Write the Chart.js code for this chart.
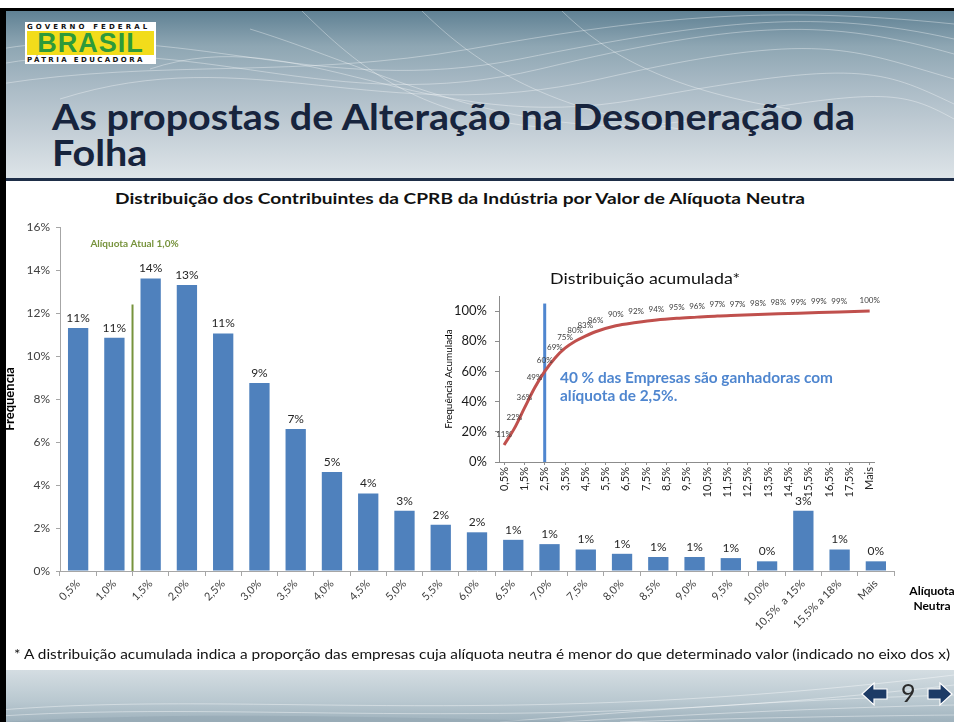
<!DOCTYPE html>
<html lang="pt-BR">
<head>
<meta charset="utf-8">
<title>As propostas de Alteração na Desoneração da Folha</title>
<script src="https://cdn.jsdelivr.net/npm/chart.js@4.4.1/dist/chart.umd.min.js"></script>
<style>
  html, body { margin: 0; padding: 0; }
  body { width: 954px; height: 722px; position: relative; overflow: hidden; background: #fff;
         font-family: Lato, "Open Sans", sans-serif; color: #1a1a1a; }
  .abs { position: absolute; }
  .fit { white-space: nowrap; display: inline-block; transform-origin: left top; }
  #topo { left: 0; top: 9px; width: 954px; height: 169px;
          background: linear-gradient(to bottom, #5d7f92 0%, #8ea6b3 22%, #a9bac5 45%, #c3ced6 72%, #dde4e8 100%); }
  #linha { left: 0; top: 178px; width: 954px; height: 3px; background: #1e2e48; }
  #borda-topo { left: 0; top: 8px; width: 954px; height: 3px; background: #000; }
  #borda-esq { left: 0; top: 8px; width: 6px; height: 714px; background: #000; }
  #rodape { left: 0; top: 670px; width: 954px; height: 52px;
            background: linear-gradient(to bottom, #d4dde2 0%, #b9c8d0 60%, #9fb2bd 100%); }
  #logo { left: 25px; top: 22px; width: 131px; height: 42px; background: #fff; }
  #logo .peq { position: absolute; left: 2px; white-space: nowrap; font: bold 7px "DejaVu Sans", sans-serif;
               color: #111; line-height: 8px; }
  #logo .faixa { position: absolute; left: 2px; top: 9px; width: 127px; height: 24px; background: #f2dc1b;
                 font: bold 27px "Liberation Sans", sans-serif; color: #2e9a3a; line-height: 24px;
                 text-align: center; letter-spacing: 1px; }
  #titulo { left: 52px; top: 98px; font-size: 36px; font-weight: 700; line-height: 36px; color: #17243d; }
  #titulo-grafico { left: 115px; top: 189px; font-size: 15px; font-weight: 700; line-height: 18px; color: #111; }
  #titulo-acum { left: 550px; top: 268px; font-size: 16px; line-height: 20px; color: #111; }
  #nota-azul { left: 560px; top: 368px; font-size: 15px; font-weight: 700; line-height: 18px; color: #4f86cf; }
  #eixo-nome { left: 906px; top: 583px; width: 52px; font-size: 12px; font-weight: 700; line-height: 15px;
               text-align: center; color: #000; }
  #nota { left: 14px; top: 646px; font-size: 13px; line-height: 16px; color: #111; }
  #pagina { left: 901px; top: 678px; font-size: 25px; line-height: 28px; color: #2a2a2a; }
  #grafico { left: 0; top: 180px; }
  #acumulado { left: 430px; top: 270px; }
</style>
</head>
<body>
<div id="topo" class="abs">
  <svg width="954" height="169" style="position:absolute;left:0;top:0">
    <g fill="none" stroke="#ffffff" stroke-opacity="0.35" stroke-width="1">
      <path d="M0,40 C180,10 320,90 520,50 S820,0 954,30"/>
      <path d="M0,55 C200,20 330,110 540,60 S830,10 954,45"/>
      <path d="M60,90 C250,30 380,120 600,70 S850,40 954,70"/>
      <path d="M150,60 C300,10 420,130 640,90 S880,60 954,95"/>
      <path d="M250,20 C380,60 520,140 700,110 S900,80 954,110"/>
      <path d="M0,75 C160,50 300,70 470,40 S760,-5 954,15"/>
      <path d="M300,0 C360,60 420,110 560,120"/>
      <path d="M420,0 C470,50 540,100 680,120"/>
      <path d="M560,0 C600,40 660,80 790,100"/>
    </g>
  </svg>
</div>
<div id="borda-topo" class="abs"></div>
<div id="linha" class="abs"></div>
<div id="rodape" class="abs">
  <svg width="954" height="52" style="position:absolute;left:0;top:0">
    <g fill="none" stroke="#ffffff" stroke-opacity="0.4" stroke-width="1">
      <path d="M0,40 C250,20 500,60 954,5"/>
      <path d="M0,46 C260,30 520,66 954,15"/>
      <path d="M500,52 C650,40 780,30 954,25"/>
      <path d="M560,52 C700,44 820,38 954,35"/>
      <path d="M620,52 C740,48 850,46 954,45"/>
    </g>
    <path d="M0,52 C200,40 400,48 600,52 Z" fill="#8fa3b0" fill-opacity="0.5"/>
  </svg>
</div>
<div id="logo" class="abs">
  <div class="peq" style="top:1px;letter-spacing:3.1px">GOVERNO FEDERAL</div>
  <div class="faixa">BRASIL</div>
  <div class="peq" style="top:34px;letter-spacing:2.4px">PÁTRIA EDUCADORA</div>
</div>

<div id="titulo" class="abs fit">As propostas de Alteração na Desoneração da<br>Folha</div>
<div id="titulo-grafico" class="abs fit">Distribuição dos Contribuintes da CPRB da Indústria por Valor de Alíquota Neutra</div>

<div id="grafico" class="abs"><canvas id="barras" width="954" height="490"></canvas></div>
<div id="acumulado" class="abs"><canvas id="linhaAcum" width="455" height="240"></canvas></div>

<div id="titulo-acum" class="abs fit">Distribuição acumulada*</div>
<div id="nota-azul" class="abs fit">40 % das Empresas são ganhadoras com<br>alíquota de 2,5%.</div>
<div id="eixo-nome" class="abs">Alíquota<br>Neutra</div>
<div id="nota" class="abs fit">* A distribuição acumulada indica a proporção das empresas cuja alíquota neutra é menor do que determinado valor (indicado no eixo dos x)</div>

<div id="pagina" class="abs">9</div>
<svg class="abs" style="left:860px;top:681px" width="94" height="26">
  <polygon points="2,13 14,2 14,8 27,8 27,18 14,18 14,24" fill="#1d3b66" stroke="#ffffff" stroke-width="1.2"/>
  <polygon points="92,13 80,2 80,8 68,8 68,18 80,18 80,24" fill="#1d3b66" stroke="#ffffff" stroke-width="1.2"/>
</svg>
<div id="borda-esq" class="abs"></div>

<script>
// distribuição por alíquota neutra (% dos contribuintes)
const aliquotas = ['0,5%', '1,0%', '1,5%', '2,0%', '2,5%', '3,0%', '3,5%', '4,0%', '4,5%', '5,0%',
  '5,5%', '6,0%', '6,5%', '7,0%', '7,5%', '8,0%', '8,5%', '9,0%', '9,5%', '10,0%',
  '10,5%  a 15%', '15,5% a 18%', 'Mais'];
const frequencia = [11.3, 10.85, 13.6, 13.3, 11.05, 8.75, 6.6, 4.6, 3.6, 2.8,
  2.15, 1.8, 1.45, 1.25, 1.0, 0.8, 0.65, 0.65, 0.6, 0.45,
  2.8, 1.0, 0.45];
const aliquotaAtual = 1.5; // entre 1,0% e 1,5%
const yTicksBarras = [0, 2, 4, 6, 8, 10, 12, 14, 16];

// distribuição acumulada
const faixasAcum = ['0,5%', '1,0%', '1,5%', '2,0%', '2,5%', '3,0%', '3,5%', '4,0%', '4,5%', '5,0%',
  '5,5%', '6,0%', '6,5%', '7,0%', '7,5%', '8,0%', '8,5%', '9,0%', '9,5%', '10,0%',
  '10,5%', '11,0%', '11,5%', '12,0%', '12,5%', '13,0%', '13,5%', '14,0%', '14,5%', '15,0%',
  '15,5%', '16,0%', '16,5%', '17,0%', '17,5%', '18,0%', 'Mais'];
const freqAcum = [11.3, 22.1, 35.7, 49.0, 60.0, 68.8, 75.4, 80.0, 83.4, 86.3,
  null, 90.3, null, 92.4, null, 94.1, null, 95.2, null, 96.0,
  null, 96.8, null, 97.3, null, 97.8, null, 98.2, null, 98.6,
  null, 99.0, null, 99.4, null, null, 100];
const marcoAcum = 4; // 2,5%
const yTicksAcum = [0, 20, 40, 60, 80, 100];

Chart.defaults.font.family = 'Lato, "Open Sans", sans-serif';
Chart.defaults.animation = false;

function ajustarLargura(id, largura) {
  const el = document.getElementById(id);
  const w = el.getBoundingClientRect().width;
  el.style.transform = 'scaleX(' + (largura / w) + ')';
}
ajustarLargura('titulo', 803);
ajustarLargura('titulo-grafico', 690);
ajustarLargura('titulo-acum', 190);
ajustarLargura('nota-azul', 273);
ajustarLargura('nota', 936);

const rotulosBarras = {
  id: 'rotulosBarras',
  afterDatasetsDraw(chart) {
    const ctx = chart.ctx, x = chart.scales.x, y = chart.scales.y;
    ctx.save();
    ctx.font = '12px Lato, sans-serif';
    ctx.fillStyle = '#262626';
    ctx.textAlign = 'center';
    ctx.textBaseline = 'bottom';
    chart.getDatasetMeta(0).data.forEach(function(bar, i) {
      ctx.fillText(Math.round(frequencia[i]) + '%', bar.x, bar.y - 4);
    });
    // linha da alíquota atual
    const gx = x.getPixelForValue(aliquotaAtual);
    ctx.strokeStyle = '#77933c';
    ctx.lineWidth = 2;
    ctx.beginPath();
    ctx.moveTo(gx, y.getPixelForValue(0));
    ctx.lineTo(gx, y.getPixelForValue(12.4));
    ctx.stroke();
    ctx.font = 'bold 10px Lato, sans-serif';
    ctx.fillStyle = '#77933c';
    ctx.textBaseline = 'middle';
    ctx.fillText('Alíquota Atual 1,0%', gx + 2, y.getPixelForValue(15.2));
    ctx.restore();
  }
};

new Chart(document.getElementById('barras'), {
  type: 'bar',
  data: {
    labels: aliquotas,
    datasets: [{
      data: frequencia,
      backgroundColor: '#4f81bd',
      categoryPercentage: 1,
      barPercentage: 0.56
    }]
  },
  options: {
    responsive: false,
    layout: { padding: { top: 47, right: 60, left: 0, bottom: 0 } },
    plugins: { legend: { display: false }, tooltip: { enabled: false } },
    scales: {
      x: {
        afterFit: function(s) { s.height = 99; },
        grid: { drawOnChartArea: false, tickLength: 5, color: '#a6a6a6' },
        border: { color: '#a6a6a6' },
        ticks: { autoSkip: false, minRotation: 45, maxRotation: 45, padding: 1,
                 color: '#404040', font: { size: 11 } }
      },
      y: {
        min: 0, max: 16,
        afterFit: function(s) { s.width = 60; },
        afterBuildTicks: function(s) { s.ticks = yTicksBarras.map(function(v) { return { value: v }; }); },
        grid: { drawOnChartArea: false, tickLength: 4, color: '#a6a6a6' },
        border: { color: '#a6a6a6' },
        ticks: { padding: 6, color: '#404040', font: { size: 12 },
                 callback: function(v) { return v + '%'; } },
        title: { display: true, text: 'Frequência', color: '#000',
                 font: { size: 13, weight: 'bold' }, padding: { top: 2, bottom: 0 } }
      }
    }
  },
  plugins: [rotulosBarras]
});

const rotulosAcum = {
  id: 'rotulosAcum',
  beforeDatasetsDraw(chart) {
    const ctx = chart.ctx, x = chart.scales.x, y = chart.scales.y;
    const bx = x.getPixelForValue(marcoAcum);
    ctx.save();
    ctx.strokeStyle = '#4f86cf';
    ctx.lineWidth = 3;
    ctx.beginPath();
    ctx.moveTo(bx, y.getPixelForValue(0));
    ctx.lineTo(bx, y.getPixelForValue(105));
    ctx.stroke();
    ctx.restore();
  },
  afterDatasetsDraw(chart) {
    const ctx = chart.ctx;
    ctx.save();
    ctx.font = '8px Lato, sans-serif';
    ctx.fillStyle = '#404040';
    ctx.textAlign = 'center';
    ctx.textBaseline = 'middle';
    chart.getDatasetMeta(0).data.forEach(function(pt, i) {
      if (freqAcum[i] === null) return;
      ctx.fillText(Math.round(freqAcum[i]) + '%', pt.x, pt.y - 11);
    });
    ctx.restore();
  }
};

new Chart(document.getElementById('linhaAcum'), {
  type: 'line',
  data: {
    datasets: [{
      data: freqAcum.map(function(v, i) { return { x: i, y: v }; }),
      borderColor: '#c0504d',
      borderWidth: 3,
      pointRadius: 0,
      spanGaps: true,
      cubicInterpolationMode: 'monotone'
    }]
  },
  options: {
    responsive: false,
    layout: { padding: { top: 26, right: 9, left: 0, bottom: 0 } },
    plugins: { legend: { display: false }, tooltip: { enabled: false } },
    scales: {
      x: {
        type: 'linear', min: -0.5, max: faixasAcum.length - 0.5,
        afterFit: function(s) { s.height = 48; },
        afterBuildTicks: function(s) {
          s.ticks = faixasAcum.map(function(f, i) { return { value: i }; })
                              .filter(function(t) { return t.value % 2 === 0; });
        },
        grid: { drawOnChartArea: false, tickLength: 3, color: '#8c8c8c' },
        border: { color: '#8c8c8c' },
        ticks: { autoSkip: false, minRotation: 90, maxRotation: 90, padding: 2,
                 color: '#262626', font: { size: 11 },
                 callback: function(v) { return faixasAcum[v]; } }
      },
      y: {
        min: 0, max: 110,
        afterFit: function(s) { s.width = 69; },
        afterBuildTicks: function(s) { s.ticks = yTicksAcum.map(function(v) { return { value: v }; }); },
        grid: { drawOnChartArea: false, tickLength: 4, color: '#8c8c8c' },
        border: { color: '#8c8c8c' },
        ticks: { padding: 8, color: '#1a1a1a', font: { size: 13 },
                 callback: function(v) { return v + '%'; } },
        title: { display: true, text: 'Frequência Acumulada', color: '#000',
                 font: { size: 10 }, padding: { top: 13, bottom: 0 } }
      }
    }
  },
  plugins: [rotulosAcum]
});
</script>
</body>
</html>
